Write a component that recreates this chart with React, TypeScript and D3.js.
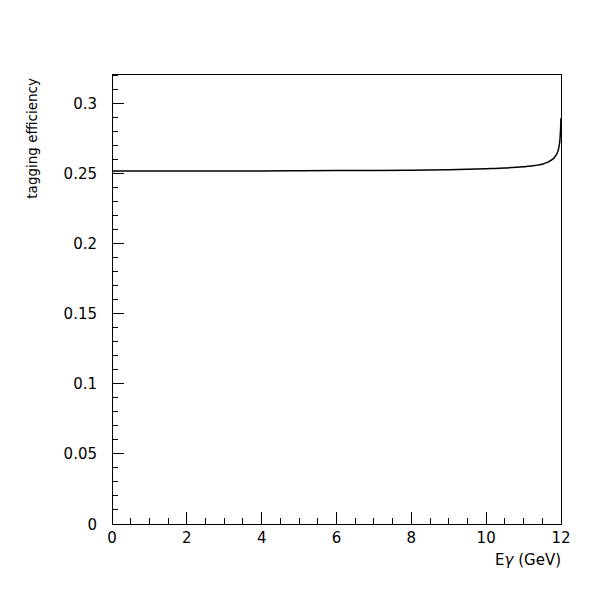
import React from "react";
import * as d3 from "d3";

const energies = [0, 1, 2, 3, 4, 5, 6, 7, 8, 9, 10, 10.5, 11, 11.3, 11.5, 11.65, 11.75, 11.83, 11.88, 11.92, 11.95, 11.97, 11.985, 12];
const efficiency = [0.2521, 0.2521, 0.2521, 0.2522, 0.2522, 0.2523, 0.2524, 0.2525, 0.2527, 0.253, 0.2538, 0.2543, 0.2552, 0.256, 0.257, 0.2585, 0.26, 0.262, 0.264, 0.2665, 0.27, 0.274, 0.28, 0.29];
const xMajorTicks = [0, 2, 4, 6, 8, 10, 12];
const yMajorTicks = [0, 0.05, 0.1, 0.15, 0.2, 0.25, 0.3];
const yTickLabels = ["0", "0.05", "0.1", "0.15", "0.2", "0.25", "0.3"];

export default function App() {
  const left = 112, right = 561, top = 74, bottom = 524;
  const x = d3.scaleLinear().domain([0, 12]).range([left, right]);
  const y = d3.scaleLinear().domain([0, 0.3214]).range([bottom, top]);
  const xMinor = d3.range(0, 12.001, 0.5);
  const yMinor = d3.range(0, 0.3201, 0.01);
  const pts = energies.map((e, i) => [e, efficiency[i]] as [number, number]);
  const line = d3.line<[number, number]>().x(d => x(d[0])).y(d => y(d[1])).curve(d3.curveMonotoneX);
  const font = "'DejaVu Sans', sans-serif";
  return (
    <svg width={600} height={600} style={{ position: "absolute", left: 0, top: 0, background: "#fff" }}>
      <rect x={0} y={0} width={600} height={600} fill="#fff" />
      <rect x={left} y={top} width={right - left} height={bottom - top} fill="none" stroke="#000" strokeWidth={1} shapeRendering="crispEdges" />
      {xMinor.map((v, i) => {
        const major = Math.abs(v / 2 - Math.round(v / 2)) < 1e-6;
        return <line key={"xm" + i} x1={x(v)} x2={x(v)} y1={bottom} y2={bottom - (major ? 12 : 6)} stroke="#000" shapeRendering="crispEdges" />;
      })}
      {yMinor.map((v, i) => {
        const major = Math.abs(v / 0.05 - Math.round(v / 0.05)) < 1e-6;
        return <line key={"ym" + i} x1={left} x2={left + (major ? 12 : 6)} y1={y(v)} y2={y(v)} stroke="#000" shapeRendering="crispEdges" />;
      })}
      {xMajorTicks.map((v, i) => (
        <text key={"xl" + i} x={x(v)} y={543} textAnchor="middle" fontFamily={font} fontSize={15}>{v}</text>
      ))}
      {yMajorTicks.map((v, i) => (
        <text key={"yl" + i} x={97} y={y(v) + 5.5} textAnchor="end" fontFamily={font} fontSize={15}>{yTickLabels[i]}</text>
      ))}
      <text x={561} y={565} textAnchor="end" fontFamily={font} fontSize={15}>E<tspan fontStyle="italic">γ</tspan> (GeV)</text>
      <text transform="translate(37,78) rotate(-90)" textAnchor="end" fontFamily={font} fontSize={13.5}>tagging efficiency</text>
      <path d={line(pts) || ""} fill="none" stroke="#000" strokeWidth={1.5} />
    </svg>
  );
}
